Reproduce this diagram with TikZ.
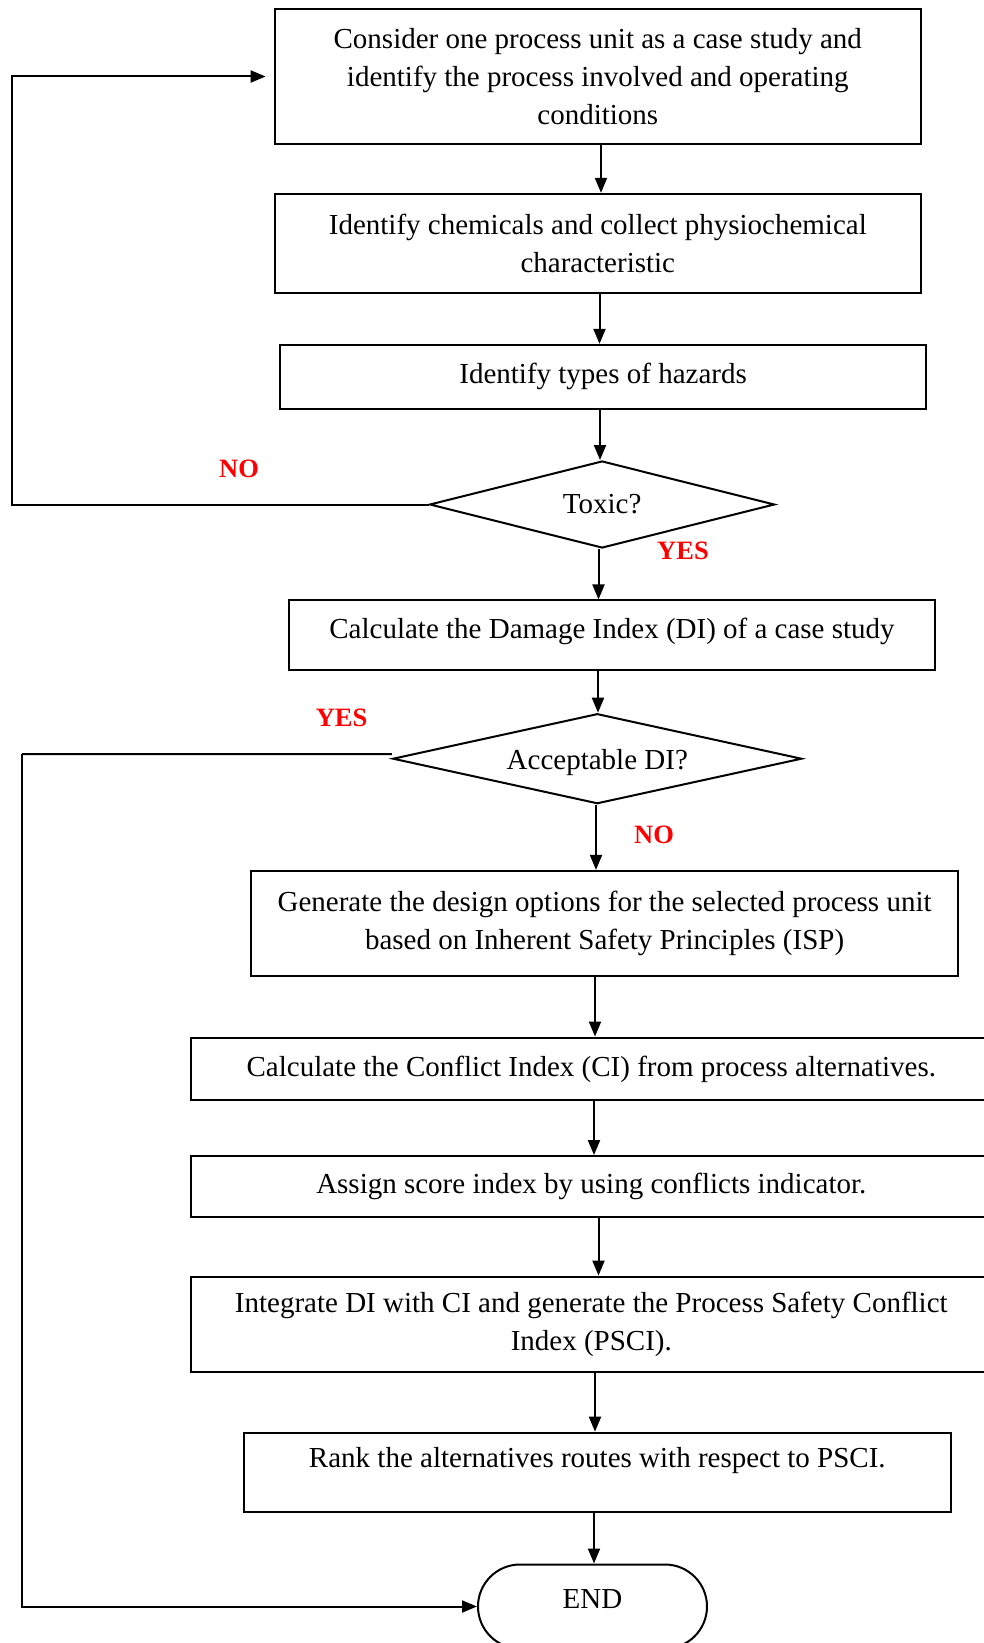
\documentclass[tikz,border=0pt]{standalone}
\usepackage{fontspec}
\setmainfont{Liberation Serif}
\usetikzlibrary{arrows.meta,shapes.geometric,calc}
\begin{document}
\begin{tikzpicture}[x=1pt,y=-1pt,
  every node/.style={font=\fontsize{29}{38}\selectfont},
  box/.style={draw, line width=2pt, inner sep=0pt, align=center},
  one/.style={text height=20pt, text depth=6pt},
  dia/.style={draw, diamond, line width=2pt, inner sep=0pt},
  arr/.style={line width=2pt, -{Triangle[length=15pt,width=12pt]}},
  lnk/.style={line width=2pt},
  lab/.style={text=red, font=\fontsize{26.5}{30}\selectfont\bfseries}
]
\useasboundingbox (0,0) rectangle (984,1643);
\clip (0,0) rectangle (984,1643);

\node[box, minimum width=646.4pt, minimum height=134.2pt] (b1) at (597.8,76.5)
  {Consider one process unit as a case study and\\identify the process involved and operating\\conditions};
\node[box, minimum width=646.4pt, minimum height=99.5pt] (b2) at (597.8,243.6)
  {Identify chemicals and collect physiochemical\\characteristic};
\node[box, one, minimum width=646.6pt, minimum height=63.9pt] (b3) at (603.1,376.8)
  {Identify types of hazards};
\node[dia, one, text height=24pt, minimum width=345pt, minimum height=87pt, aspect=4] (tox) at (602.1,504.5) {Toxic?};
\node[box, one, text depth=14pt, minimum width=646pt, minimum height=69.1pt] (b4) at (612,635)
  {Calculate the Damage Index (DI) of a case study};
\node[dia, one, text height=28pt, minimum width=409pt, minimum height=90pt, aspect=4.5] (acc) at (597.3,758.7) {Acceptable DI?};
\node[box, minimum width=706.3pt, minimum height=104.8pt] (b5) at (604.6,923.3)
  {Generate the design options for the selected process unit\\based on Inherent Safety Principles (ISP)};
\node[box, one, minimum width=801.3pt, minimum height=62.9pt] (b6) at (591.3,1069)
  {Calculate the Conflict Index (CI) from process alternatives.};
\node[box, one, minimum width=801.3pt, minimum height=60.7pt] (b7) at (591.3,1186.4)
  {Assign score index by using conflicts indicator.};
\node[box, minimum width=801.3pt, minimum height=95.3pt] (b8) at (591.3,1324.2)
  {Integrate DI with CI and generate the Process Safety Conflict\\Index (PSCI).};
\node[box, one, text depth=30pt, minimum width=706.5pt, minimum height=79.7pt] (b9) at (597.3,1472.5)
  {Rank the alternatives routes with respect to PSCI.};
\node[box, one, text depth=16pt, rounded corners=42pt, minimum width=229pt, minimum height=84pt] (endn) at (592.5,1606.5) {END};

\draw[arr] (601,0 |- b1.south) -- (601,0 |- b2.north);
\draw[arr] (599.5,0 |- b2.south) -- (599.5,0 |- b3.north);
\draw[arr] (600,0 |- b3.south) -- (600,0 |- tox.north);
\draw[arr] (598.5,0 |- tox.south) -- (598.5,0 |- b4.north);
\draw[arr] (598,0 |- b4.south) -- (598,0 |- acc.north);
\draw[arr] (596,0 |- acc.south) -- (596,0 |- b5.north);
\draw[arr] (595,0 |- b5.south) -- (595,0 |- b6.north);
\draw[arr] (594,0 |- b6.south) -- (594,0 |- b7.north);
\draw[arr] (598.5,0 |- b7.south) -- (598.5,0 |- b8.north);
\draw[arr] (595,0 |- b8.south) -- (595,0 |- b9.north);
\draw[arr] (594,0 |- b9.south) -- (594,0 |- endn.north);

\coordinate (noc) at (11.5,504.5);
\draw[arr] (tox.west) -- (noc) |- ([xshift=-8pt]b1.west);
\coordinate (yesc) at (22,754);
\draw[lnk] ([yshift=4.5pt]acc.west) -- (yesc);
\draw[arr] (yesc) |- (endn.west);

\node[lab] (no1) at (239,468.5) {NO};
\node[lab] (yes1) at (683,551) {YES};
\node[lab] (yes2) at (341.6,718) {YES};
\node[lab] (no2) at (654,835) {NO};
\end{tikzpicture}
\end{document}
